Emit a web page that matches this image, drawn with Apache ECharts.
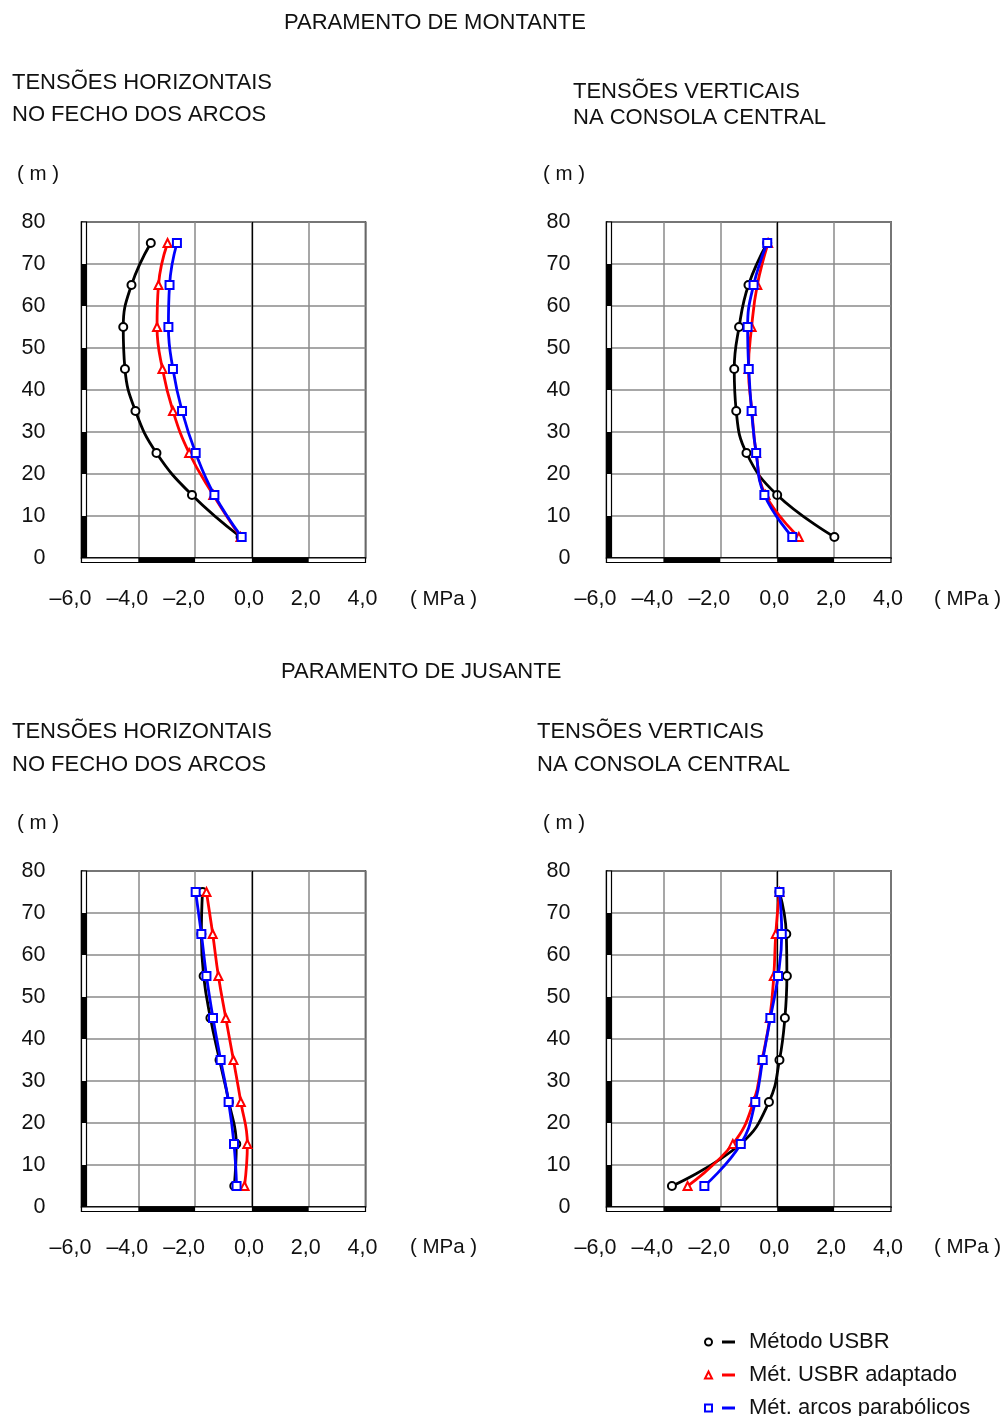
<!DOCTYPE html>
<html>
<head>
<meta charset="utf-8">
<script src="https://cdn.jsdelivr.net/npm/echarts@6/dist/echarts.min.js"></script>
<style>
html,body{margin:0;padding:0;background:#fff;}
#chart{width:1007px;height:1416px;}
</style>
</head>
<body>
<div id="chart"></div>
<script>
// ---- data ----
const depths = [5, 15, 25, 35, 45, 55, 65, 75];
const stressTicks = [-6, -4, -2, 0, 2, 4];
const depthTicks = [0, 10, 20, 30, 40, 50, 60, 70, 80];
const depthScaleBands = [[0, 10], [20, 30], [40, 50], [60, 70]];
const stressScaleBands = [[-4, -2], [0, 2]];
const seriesNames = ['Método USBR', 'Mét. USBR adaptado', 'Mét. arcos parabólicos'];

// Paramento de montante
const montHorUSBR  = [-0.40, -2.11, -3.36, -4.10, -4.47, -4.53, -4.24, -3.56];
const montHorAdapt = [-0.40, -1.36, -2.21, -2.78, -3.15, -3.34, -3.29, -2.97];
const montHorParab = [-0.36, -1.32, -1.98, -2.46, -2.78, -2.94, -2.90, -2.64];
const montVerUSBR  = [2.01, 0.00, -1.08, -1.44, -1.51, -1.34, -1.01, -0.35];
const montVerAdapt = [0.76, -0.41, -0.74, -0.89, -1.01, -0.90, -0.70, -0.32];
const montVerParab = [0.53, -0.45, -0.74, -0.90, -1.00, -1.04, -0.83, -0.35];
// Paramento de jusante
const jusHorUSBR  = [-0.62, -0.55, -0.81, -1.14, -1.46, -1.70, -1.78, -1.74];
const jusHorAdapt = [-0.26, -0.16, -0.39, -0.65, -0.92, -1.18, -1.38, -1.60];
const jusHorParab = [-0.54, -0.63, -0.82, -1.10, -1.37, -1.60, -1.78, -1.98];
const jusVerUSBR  = [-3.70, -1.29, -0.29, 0.08, 0.27, 0.34, 0.32, 0.08];
const jusVerAdapt = [-3.15, -1.56, -0.83, -0.53, -0.26, -0.12, -0.05, 0.08];
const jusVerParab = [-2.56, -1.28, -0.77, -0.51, -0.24, 0.03, 0.16, 0.08];

const panels = [
  [montHorUSBR, montHorAdapt, montHorParab],
  [montVerUSBR, montVerAdapt, montVerParab],
  [jusHorUSBR, jusHorAdapt, jusHorParab],
  [jusVerUSBR, jusVerAdapt, jusVerParab]
];

// ---- styles / layout ----
const FONT = "'Liberation Sans', Arial, Helvetica, sans-serif";
const colors = ['#000000', '#ff0000', '#0000ff'];
const symbols = ['emptyCircle', 'emptyTriangle', 'emptyRect'];
const grids = [
  {left: 81.5, top: 222, width: 284, height: 336},
  {left: 606.5, top: 222, width: 284.5, height: 336},
  {left: 81.5, top: 871, width: 284, height: 336},
  {left: 606.5, top: 871, width: 284.5, height: 336}
];

function fmtStress(v) {
  const s = v.toFixed(1).replace('.', ',').replace('-', '–');
  return v < 0 ? '{n|' + s + '}' : '{p|' + s + '}';
}

const xAxes = [], yAxes = [], series = [];
grids.forEach((g, gi) => {
  xAxes.push({
    gridIndex: gi, type: 'value',
    min: stressTicks[0], max: stressTicks[stressTicks.length - 1], interval: 2,
    axisLine: {show: true, onZero: false, lineStyle: {color: '#000', width: 1.5}},
    axisTick: {show: false},
    splitLine: {show: true, lineStyle: {color: '#8a8a8a', width: 1.5}},
    axisLabel: {
      margin: 30, fontSize: 21.5, color: '#111', fontFamily: FONT,
      showMinLabel: true, showMaxLabel: true,
      formatter: fmtStress,
      rich: {
        n: {fontSize: 21.5, fontFamily: FONT, color: '#111', padding: [0, 22, 0, 0]},
        p: {fontSize: 21.5, fontFamily: FONT, color: '#111', padding: [0, 6, 0, 0]}
      }
    }
  });
  yAxes.push({
    gridIndex: gi, type: 'value',
    min: depthTicks[0], max: depthTicks[depthTicks.length - 1], interval: 10,
    axisLine: {show: true, onZero: false, lineStyle: {color: '#000', width: 1.5}},
    axisTick: {show: false},
    splitLine: {show: true, lineStyle: {color: '#8a8a8a', width: 1.5}},
    axisLabel: {margin: 36, fontSize: 21.5, color: '#111', fontFamily: FONT,
      showMinLabel: true, showMaxLabel: true}
  });

  // scale strips along the left and bottom edges
  series.push({
    type: 'custom', name: 'escala' + gi, xAxisIndex: gi, yAxisIndex: gi,
    silent: true, clip: false, z: 3,
    data: [[stressTicks[0], depthTicks[0]]],
    renderItem: function (params, api) {
      const xMin = stressTicks[0], xMax = stressTicks[stressTicks.length - 1];
      const yMin = depthTicks[0], yMax = depthTicks[depthTicks.length - 1];
      const bl = api.coord([xMin, yMin]);
      const tl = api.coord([xMin, yMax]);
      const br = api.coord([xMax, yMin]);
      const W = 5, H = 4.5;
      const ch = [];
      ch.push({type: 'rect', shape: {x: bl[0], y: tl[1], width: W, height: bl[1] - tl[1] + H},
        style: {fill: '#fff', stroke: '#000', lineWidth: 1.2}});
      depthScaleBands.forEach(b => {
        const p1 = api.coord([xMin, b[0]]), p2 = api.coord([xMin, b[1]]);
        ch.push({type: 'rect', shape: {x: bl[0], y: p2[1], width: W, height: p1[1] - p2[1]},
          style: {fill: '#000'}});
      });
      ch.push({type: 'rect', shape: {x: bl[0], y: bl[1], width: br[0] - bl[0], height: H},
        style: {fill: '#fff', stroke: '#000', lineWidth: 1.2}});
      stressScaleBands.forEach(b => {
        const p1 = api.coord([b[0], yMin]), p2 = api.coord([b[1], yMin]);
        ch.push({type: 'rect', shape: {x: p1[0], y: bl[1], width: p2[0] - p1[0], height: H},
          style: {fill: '#000'}});
      });
      return {type: 'group', children: ch};
    }
  });

  panels[gi].forEach((vals, si) => {
    const s = {
      type: 'line', name: seriesNames[si], xAxisIndex: gi, yAxisIndex: gi,
      data: vals.map((v, i) => [v, depths[i]]),
      smooth: 0.45,
      symbol: symbols[si], symbolSize: 8, showSymbol: true,
      color: colors[si],
      lineStyle: {color: colors[si], width: 2.8},
      itemStyle: {color: colors[si], borderWidth: 1.4},
      z: 4 + si
    };
    if (si === 0) {
      s.markLine = {
        silent: true, symbol: 'none', label: {show: false},
        lineStyle: {color: '#000', type: 'solid', width: 1.3},
        data: [{xAxis: 0}]
      };
    }
    series.push(s);
  });
});

const tStyle = {fontFamily: FONT, fontWeight: 'normal', color: '#111'};
const titles = [
  {text: 'PARAMENTO DE MONTANTE', left: 284, top: 11.5, textStyle: Object.assign({fontSize: 22, lineHeight: 22}, tStyle)},
  {text: 'TENSÕES HORIZONTAIS\nNO FECHO DOS ARCOS', left: 12, top: 66.5, textStyle: Object.assign({fontSize: 22, lineHeight: 32.5}, tStyle)},
  {text: 'TENSÕES VERTICAIS\nNA CONSOLA CENTRAL', left: 573, top: 78.5, textStyle: Object.assign({fontSize: 22, lineHeight: 26}, tStyle)},
  {text: 'PARAMENTO DE JUSANTE', left: 281, top: 661, textStyle: Object.assign({fontSize: 22, lineHeight: 22}, tStyle)},
  {text: 'TENSÕES HORIZONTAIS\nNO FECHO DOS ARCOS', left: 12, top: 715.5, textStyle: Object.assign({fontSize: 22, lineHeight: 33}, tStyle)},
  {text: 'TENSÕES VERTICAIS\nNA CONSOLA CENTRAL', left: 537, top: 715.5, textStyle: Object.assign({fontSize: 22, lineHeight: 33}, tStyle)},
  {text: '( m )', left: 17, top: 163, textStyle: Object.assign({fontSize: 20.5, lineHeight: 22}, tStyle)},
  {text: '( m )', left: 543, top: 163, textStyle: Object.assign({fontSize: 20.5, lineHeight: 22}, tStyle)},
  {text: '( m )', left: 17, top: 812, textStyle: Object.assign({fontSize: 20.5, lineHeight: 22}, tStyle)},
  {text: '( m )', left: 543, top: 812, textStyle: Object.assign({fontSize: 20.5, lineHeight: 22}, tStyle)},
  {text: '( MPa )', left: 410, top: 588, textStyle: Object.assign({fontSize: 20.5, lineHeight: 22}, tStyle)},
  {text: '( MPa )', left: 934, top: 588, textStyle: Object.assign({fontSize: 20.5, lineHeight: 22}, tStyle)},
  {text: '( MPa )', left: 410, top: 1236, textStyle: Object.assign({fontSize: 20.5, lineHeight: 22}, tStyle)},
  {text: '( MPa )', left: 934, top: 1236, textStyle: Object.assign({fontSize: 20.5, lineHeight: 22}, tStyle)}
].map(t => Object.assign({padding: 0, itemGap: 0}, t));

const chart = echarts.init(document.getElementById('chart'), null, {renderer: 'canvas'});
chart.setOption({
  animation: false,
  backgroundColor: '#fff',
  title: titles,
  grid: grids.map(g => Object.assign({show: true, borderColor: '#000', borderWidth: 1.5,
    backgroundColor: 'transparent', containLabel: false, outerBoundsMode: 'none'}, g)),
  xAxis: xAxes,
  yAxis: yAxes,
  legend: {
    orient: 'vertical', left: 704, top: 1331, width: 300, height: 110, padding: 0,
    itemWidth: 7, itemHeight: 7, itemGap: 11,
    selectedMode: false,
    data: seriesNames.map((n, i) => ({name: n, icon: symbols[i]})),
    formatter: function (name) {
      const i = seriesNames.indexOf(name);
      return '{sp| }{d' + i + '| }{g| }' + name;
    },
    textStyle: {
      fontFamily: FONT, fontSize: 22, color: '#111', lineHeight: 21,
      rich: {
        sp: {width: 5},
        g: {width: 14},
        d0: {width: 13, height: 3, backgroundColor: colors[0]},
        d1: {width: 13, height: 3, backgroundColor: colors[1]},
        d2: {width: 13, height: 3, backgroundColor: colors[2]}
      }
    }
  },
  series: series
});
</script>
</body>
</html>
